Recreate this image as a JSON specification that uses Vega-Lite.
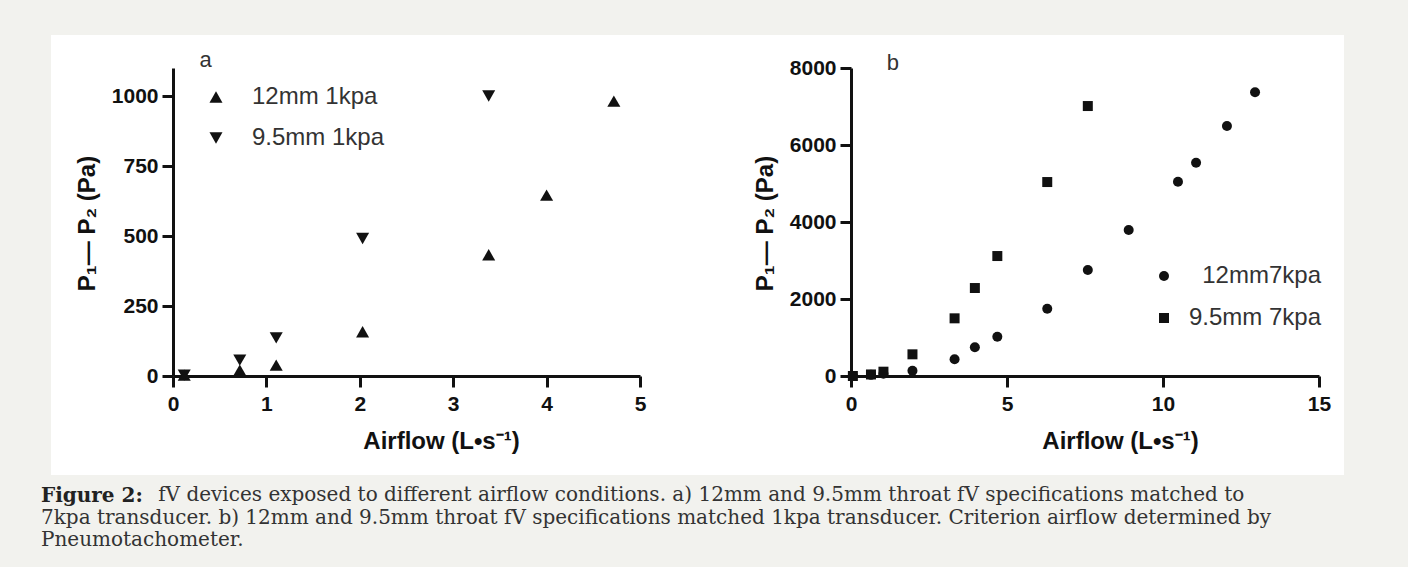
{
  "$schema": "https://vega.github.io/schema/vega-lite/v6.json",
  "width": 1293,
  "height": 440,
  "autosize": {"type": "none"},
  "padding": {"left": 51, "top": 35, "right": 64, "bottom": 92},
  "background": "#f2f2ee",
  "datasets": {
    "left": [
      {"airflow": 0.12, "dp": 3, "series": "12mm 1kpa"},
      {"airflow": 0.715, "dp": 21, "series": "12mm 1kpa"},
      {"airflow": 1.105, "dp": 39, "series": "12mm 1kpa"},
      {"airflow": 2.03, "dp": 158, "series": "12mm 1kpa"},
      {"airflow": 3.38, "dp": 433, "series": "12mm 1kpa"},
      {"airflow": 4.0, "dp": 646, "series": "12mm 1kpa"},
      {"airflow": 4.72, "dp": 982, "series": "12mm 1kpa"},
      {"airflow": 0.12, "dp": 3, "series": "9.5mm 1kpa"},
      {"airflow": 0.715, "dp": 57, "series": "9.5mm 1kpa"},
      {"airflow": 1.105, "dp": 136, "series": "9.5mm 1kpa"},
      {"airflow": 2.03, "dp": 491, "series": "9.5mm 1kpa"},
      {"airflow": 3.38, "dp": 1000, "series": "9.5mm 1kpa"}
    ],
    "right": [
      {"airflow": 0.06, "dp": 0, "series": "12mm7kpa"},
      {"airflow": 0.64, "dp": 30, "series": "12mm7kpa"},
      {"airflow": 1.04, "dp": 60, "series": "12mm7kpa"},
      {"airflow": 1.97, "dp": 138, "series": "12mm7kpa"},
      {"airflow": 3.32, "dp": 433, "series": "12mm7kpa"},
      {"airflow": 3.97, "dp": 745, "series": "12mm7kpa"},
      {"airflow": 4.69, "dp": 1021, "series": "12mm7kpa"},
      {"airflow": 6.29, "dp": 1749, "series": "12mm7kpa"},
      {"airflow": 7.59, "dp": 2753, "series": "12mm7kpa"},
      {"airflow": 8.9, "dp": 3792, "series": "12mm7kpa"},
      {"airflow": 10.48, "dp": 5046, "series": "12mm7kpa"},
      {"airflow": 11.06, "dp": 5540, "series": "12mm7kpa"},
      {"airflow": 12.05, "dp": 6493, "series": "12mm7kpa"},
      {"airflow": 12.95, "dp": 7368, "series": "12mm7kpa"},
      {"airflow": 0.06, "dp": 0, "series": "9.5mm 7kpa"},
      {"airflow": 0.64, "dp": 40, "series": "9.5mm 7kpa"},
      {"airflow": 1.04, "dp": 112, "series": "9.5mm 7kpa"},
      {"airflow": 1.97, "dp": 563, "series": "9.5mm 7kpa"},
      {"airflow": 3.32, "dp": 1498, "series": "9.5mm 7kpa"},
      {"airflow": 3.97, "dp": 2285, "series": "9.5mm 7kpa"},
      {"airflow": 4.69, "dp": 3116, "series": "9.5mm 7kpa"},
      {"airflow": 6.29, "dp": 5038, "series": "9.5mm 7kpa"},
      {"airflow": 7.59, "dp": 7012, "series": "9.5mm 7kpa"}
    ],
    "labelsA": [{"label": "a"}],
    "labelsB": [{"label": "b"}]
  },
  "title": {
    "text": "Figure 2:",
    "subtitle": [
      "\u2800\u2800\u2800\u2800\u2800\u2800\u2800\u2800fV devices exposed to different airflow conditions. a) 12mm and 9.5mm throat fV specifications matched to",
      "7kpa transducer. b) 12mm and 9.5mm throat fV specifications matched 1kpa transducer. Criterion airflow determined by",
      "Pneumotachometer."
    ],
    "orient": "bottom",
    "anchor": "start",
    "frame": "group",
    "offset": 11,
    "dx": -10,
    "font": "DejaVu Serif",
    "fontSize": 20,
    "fontWeight": "bold",
    "color": "#222222",
    "subtitleFont": "DejaVu Serif",
    "subtitleFontSize": 20,
    "subtitleFontWeight": "normal",
    "subtitleColor": "#333333",
    "subtitleLineHeight": 22.7,
    "subtitlePadding": -21
  },
  "config": {
    "view": {"fill": "white", "stroke": null},
    "axis": {
      "grid": false,
      "domainColor": "#111111",
      "domainWidth": 3,
      "tickColor": "#111111",
      "tickWidth": 3,
      "tickSize": 11,
      "labelFont": "Liberation Sans",
      "labelFontWeight": "bold",
      "labelFontSize": 21,
      "labelColor": "#111111",
      "labelFlush": false,
      "titleFont": "Liberation Sans",
      "titleFontWeight": "bold",
      "titleFontSize": 24,
      "titleColor": "#111111"
    },
    "axisX": {"labelPadding": 6},
    "axisY": {"labelPadding": 4},
    "legend": {
      "labelFont": "Liberation Sans",
      "labelFontSize": 24,
      "labelColor": "#333333",
      "padding": 0,
      "symbolFillColor": "#111111",
      "symbolStrokeWidth": 0
    }
  },
  "layer": [
    {
      "layer": [
        {
          "data": {"name": "left"},
          "mark": {"type": "point", "filled": true, "opacity": 1, "color": "#111111", "size": 170},
          "encoding": {
            "x": {
              "field": "airflow", "type": "quantitative",
              "scale": {"domain": [0, 5], "range": [122, 589], "nice": false, "zero": false},
              "axis": {"orient": "bottom", "offset": -99, "values": [0, 1, 2, 3, 4, 5], "format": "d", "title": "Airflow (L•s⁻¹)", "titleX": 390, "titleY": 72, "titleBaseline": "alphabetic"}
            },
            "y": {
              "field": "dp", "type": "quantitative",
              "scale": {"domain": [0, 1100], "range": [341, 33], "nice": false},
              "axis": {"orient": "left", "offset": -122, "values": [0, 250, 500, 750, 1000], "format": "d", "title": "P₁— P₂ (Pa)", "titleX": -79, "titleY": 188, "titleAngle": -90, "titleAlign": "center", "titleBaseline": "alphabetic"}
            },
            "shape": {
              "field": "series", "type": "nominal",
              "scale": {"domain": ["12mm 1kpa", "9.5mm 1kpa"], "range": ["triangle-up", "triangle-down"]},
              "legend": {"orient": "none", "legendX": 153, "legendY": 50, "title": null, "symbolSize": 170, "labelOffset": 24, "rowPadding": 17}
            }
          }
        },
        {
          "data": {"name": "labelsA"},
          "mark": {"type": "text", "font": "Liberation Sans", "fontSize": 22, "color": "#333333", "align": "center", "baseline": "alphabetic"},
          "encoding": {
            "x": {"datum": 0.35, "type": "quantitative"},
            "y": {"datum": 1103, "type": "quantitative"},
            "text": {"field": "label"}
          }
        }
      ]
    },
    {
      "layer": [
        {
          "data": {"name": "right"},
          "mark": {"type": "point", "filled": true, "opacity": 1, "color": "#111111", "size": 100},
          "encoding": {
            "x": {
              "field": "airflow", "type": "quantitative",
              "scale": {"domain": [0, 15], "range": [800, 1268], "nice": false, "zero": false},
              "axis": {"orient": "bottom", "offset": -99, "values": [0, 5, 10, 15], "format": "d", "title": "Airflow (L•s⁻¹)", "titleX": 1069, "titleY": 72, "titleBaseline": "alphabetic"}
            },
            "y": {
              "field": "dp", "type": "quantitative",
              "scale": {"domain": [0, 8000], "range": [341, 33], "nice": false},
              "axis": {"orient": "left", "offset": -800, "values": [0, 2000, 4000, 6000, 8000], "format": "d", "title": "P₁— P₂ (Pa)", "titleX": -79, "titleY": 188, "titleAngle": -90, "titleAlign": "center", "titleBaseline": "alphabetic"}
            },
            "shape": {
              "field": "series", "type": "nominal",
              "scale": {"domain": ["12mm7kpa", "9.5mm 7kpa"], "range": ["circle", "square"]},
              "legend": {"orient": "none", "legendX": 1101, "legendY": 229, "title": null, "symbolSize": 100, "labelOffset": 145, "labelAlign": "right", "rowPadding": 18}
            }
          }
        },
        {
          "data": {"name": "labelsB"},
          "mark": {"type": "text", "font": "Liberation Sans", "fontSize": 22, "color": "#333333", "align": "center", "baseline": "alphabetic"},
          "encoding": {
            "x": {"datum": 1.34, "type": "quantitative"},
            "y": {"datum": 7950, "type": "quantitative"},
            "text": {"field": "label"}
          }
        }
      ]
    }
  ],
  "resolve": {
    "scale": {"x": "independent", "y": "independent", "shape": "independent"},
    "axis": {"x": "independent", "y": "independent"},
    "legend": {"shape": "independent"}
  }
}
